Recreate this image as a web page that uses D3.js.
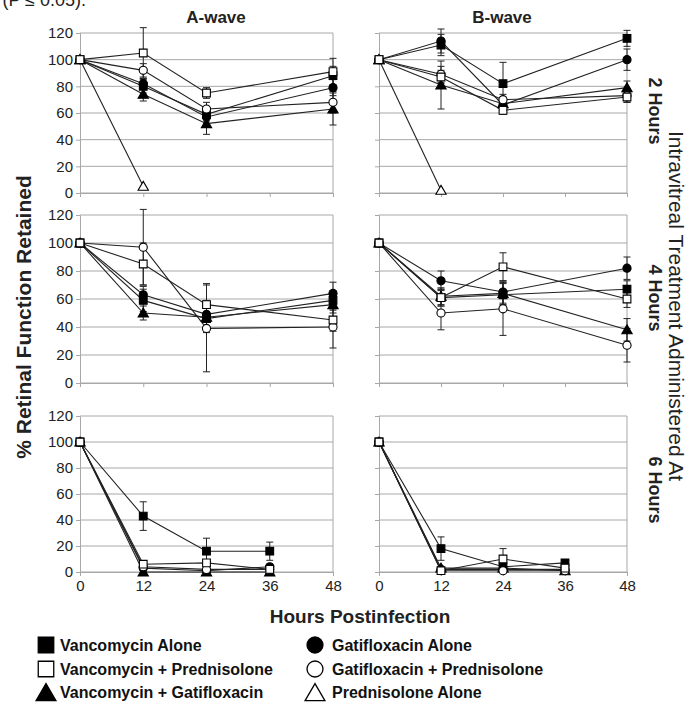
<!DOCTYPE html>
<html>
<head>
<meta charset="utf-8">
<script src="https://cdn.jsdelivr.net/npm/d3@7"></script>
<style>
  html, body { margin: 0; padding: 0; background: #fff; }
  svg { display: block; font-family: "Liberation Sans", Arial, sans-serif; }
</style>
</head>
<body>
<svg id="chart" width="696" height="713"></svg>
<script>
// ---------------- DATA ----------------
const hours = [0, 12, 24, 36, 48];
const yTicks = [0, 20, 40, 60, 80, 100, 120];
const xTicks = [0, 12, 24, 36, 48];
const seriesNames = ["Vancomycin Alone", "Vancomycin + Prednisolone", "Vancomycin + Gatifloxacin",
                     "Gatifloxacin Alone", "Gatifloxacin + Prednisolone", "Prednisolone Alone"];
const waveTitles = ["A-wave", "B-wave"];
const timeLabels = ["2 Hours", "4 Hours", "6 Hours"];

// series order: VA, VP, VG, GA, GP, PA  (values per hour 0,12,24,36,48)
const aWave2h = [
  [100, 80, 59, null, 88],
  [100, 105, 75, null, 91],
  [100, 74, 52, null, 63],
  [100, 82, 57, null, 79],
  [100, 92, 63, null, 68],
  [100, 5, null, null, null]
];
const aWave2hErr = [
  [0, 5, 5, null, 7],
  [0, 19, 4, null, 10],
  [0, 5, 8, null, 12],
  [0, 4, 5, null, 6],
  [0, 5, 5, null, 8],
  [0, 0, null, null, null]
];
const bWave2h = [
  [100, 111, 82, null, 116],
  [100, 87, 62, null, 72],
  [100, 81, 67, null, 79],
  [100, 114, 66, null, 100],
  [100, 89, 70, null, 73],
  [100, 2, null, null, null]
];
const bWave2hErr = [
  [0, 8, 16, null, 6],
  [0, 5, 3, null, 4],
  [0, 18, 5, null, 5],
  [0, 9, 4, null, 8],
  [0, 6, 4, null, 5],
  [0, 0, null, null, null]
];
const aWave4h = [
  [100, 59, 46, null, 59],
  [100, 85, 56, null, 45],
  [100, 50, 47, null, 56],
  [100, 63, 49, null, 64],
  [100, 97, 39, null, 40],
  [null, null, null, null, null]
];
const aWave4hErr = [
  [0, 8, 10, null, 7],
  [0, 15, 15, null, 8],
  [0, 5, 8, null, 6],
  [0, 6, 10, null, 8],
  [0, 27, 31, null, 15],
  [null, null, null, null, null]
];
const bWave4h = [
  [100, 61, 63, null, 67],
  [100, 61, 83, null, 60],
  [100, 62, 64, null, 38],
  [100, 73, 65, null, 82],
  [100, 50, 53, null, 27],
  [null, null, null, null, null]
];
const bWave4hErr = [
  [0, 6, 8, null, 6],
  [0, 6, 10, null, 6],
  [0, 6, 8, null, 8],
  [0, 7, 8, null, 8],
  [0, 12, 19, null, 12],
  [null, null, null, null, null]
];
const aWave6h = [
  [100, 43, 16, 16, null],
  [100, 6, 7, 2, null],
  [100, 0, 0, 0, null],
  [100, 3, 1, 4, null],
  [100, 4, 2, 2, null],
  [null, null, null, null, null]
];
const aWave6hErr = [
  [0, 11, 10, 7, null],
  [0, 2, 2, 2, null],
  [0, 1, 1, 1, null],
  [0, 2, 2, 2, null],
  [0, 2, 2, 2, null],
  [null, null, null, null, null]
];
const bWave6h = [
  [100, 18, 4, 7, null],
  [100, 1, 10, 3, null],
  [100, 3, 3, 1, null],
  [100, 2, 2, 2, null],
  [100, 1, 1, 1, null],
  [null, null, null, null, null]
];
const bWave6hErr = [
  [0, 9, 3, 2, null],
  [0, 1, 8, 1, null],
  [0, 1, 1, 1, null],
  [0, 1, 1, 1, null],
  [0, 1, 1, 1, null],
  [null, null, null, null, null]
];

// ---------------- STYLE / LAYOUT ----------------
const seriesStyle = [
  { shape: "square", fill: "#000" },
  { shape: "square", fill: "#fff" },
  { shape: "triangle", fill: "#000" },
  { shape: "circle", fill: "#000" },
  { shape: "circle", fill: "#fff" },
  { shape: "triangle", fill: "#fff" }
];
const drawOrder = [0, 2, 3, 4, 5, 1];

const cols = [{ x0: 80, x1: 333 }, { x0: 379, x1: 627 }];
const rows = [{ y0: 193, y1: 33 }, { y0: 383, y1: 215 }, { y0: 572, y1: 416 }];
const panelData = [
  [[aWave2h, aWave2hErr], [bWave2h, bWave2hErr]],
  [[aWave4h, aWave4hErr], [bWave4h, bWave4hErr]],
  [[aWave6h, aWave6hErr], [bWave6h, bWave6hErr]]
];

const svg = d3.select("#chart");
const gridColor = "#a8a8a8";
const lineColor = "#222";

function markerPath(shape, big) {
  const sizes = big ? { square: 240, circle: 200, triangle: 170 } : { square: 60, circle: 52, triangle: 46 };
  const t = shape === "square" ? d3.symbolSquare : shape === "circle" ? d3.symbolCircle : d3.symbolTriangle;
  return d3.symbol().type(t).size(sizes[shape])();
}

rows.forEach((r, ri) => {
  cols.forEach((c, ci) => {
    const x = d3.scaleLinear().domain([0, 48]).range([c.x0, c.x1]);
    const y = d3.scaleLinear().domain([0, 120]).range([r.y0, r.y1]);
    const g = svg.append("g");

    // gridlines
    g.selectAll("line.grid").data(yTicks).join("line")
      .attr("x1", c.x0).attr("x2", c.x1)
      .attr("y1", d => y(d)).attr("y2", d => y(d))
      .attr("stroke", gridColor).attr("stroke-width", 1);
    // right border
    g.append("line").attr("x1", c.x1).attr("x2", c.x1).attr("y1", r.y0).attr("y2", r.y1)
      .attr("stroke", gridColor);

    // y axis
    const yAxis = d3.axisLeft(y).tickValues(yTicks).tickSize(4).tickPadding(3)
      .tickFormat(ci === 0 ? d3.format("d") : () => "");
    const ya = g.append("g").attr("transform", `translate(${c.x0},0)`).call(yAxis);
    ya.select(".domain").attr("stroke", gridColor);
    ya.selectAll(".tick line").attr("stroke", gridColor);
    ya.selectAll(".tick text").attr("font-size", 15).attr("fill", "#222")
      .attr("font-family", "'Liberation Sans', Arial, sans-serif");

    // x axis
    const xAxis = d3.axisBottom(x).tickValues(xTicks).tickSize(4).tickPadding(4)
      .tickFormat(ri === 2 ? d3.format("d") : () => "");
    const xa = g.append("g").attr("transform", `translate(0,${r.y0})`).call(xAxis);
    xa.select(".domain").attr("stroke", gridColor);
    xa.selectAll(".tick line").attr("stroke", gridColor);
    xa.selectAll(".tick text").attr("font-size", 15).attr("fill", "#222")
      .attr("font-family", "'Liberation Sans', Arial, sans-serif");

    const [vals, errs] = panelData[ri][ci];
    const lineGen = d3.line().defined(d => d.v != null).x(d => x(d.h)).y(d => y(d.v));

    // lines
    drawOrder.forEach(si => {
      const pts = hours.map((h, i) => ({ h, v: vals[si][i] })).filter(d => d.v != null);
      if (pts.length < 2) return;
      g.append("path").datum(pts).attr("d", lineGen)
        .attr("fill", "none").attr("stroke", lineColor).attr("stroke-width", 1.1);
    });
    // error bars
    drawOrder.forEach(si => {
      hours.forEach((h, i) => {
        const v = vals[si][i], e = errs[si][i];
        if (v == null || !e) return;
        const xx = x(h);
        g.append("line").attr("x1", xx).attr("x2", xx).attr("y1", y(v - e)).attr("y2", y(v + e))
          .attr("stroke", lineColor).attr("stroke-width", 1);
        [v - e, v + e].forEach(ev => {
          g.append("line").attr("x1", xx - 3.5).attr("x2", xx + 3.5).attr("y1", y(ev)).attr("y2", y(ev))
            .attr("stroke", lineColor).attr("stroke-width", 1);
        });
      });
    });
    // markers
    drawOrder.forEach(si => {
      const st = seriesStyle[si];
      hours.forEach((h, i) => {
        const v = vals[si][i];
        if (v == null) return;
        g.append("path").attr("d", markerPath(st.shape, false))
          .attr("transform", `translate(${x(h)},${y(v) + (st.shape === "triangle" ? 1 : 0)})`)
          .attr("fill", st.fill).attr("stroke", "#000").attr("stroke-width", 1.1);
      });
    });
  });
});

// titles
const titleX = [216, 502];
svg.selectAll("text.title").data(waveTitles).join("text")
  .attr("x", (d, i) => titleX[i]).attr("y", 23)
  .attr("text-anchor", "middle").attr("font-weight", "bold").attr("font-size", 17)
  .attr("fill", "#222").text(d => d);

// right labels
const timeY = [111, 298, 490];
svg.selectAll("text.time").data(timeLabels).join("text")
  .attr("transform", (d, i) => `translate(655,${timeY[i]}) rotate(90)`)
  .attr("text-anchor", "middle").attr("dy", "0.35em")
  .attr("font-weight", "bold").attr("font-size", 18).attr("fill", "#222").text(d => d);
svg.append("text")
  .attr("transform", "translate(676,306) rotate(90)")
  .attr("text-anchor", "middle").attr("dy", "0.35em")
  .attr("font-size", 21).attr("fill", "#222").text("Intravitreal Treatment Administered At");

// axis labels
svg.append("text")
  .attr("transform", "translate(24,317) rotate(-90)")
  .attr("text-anchor", "middle").attr("dy", "0.35em")
  .attr("font-weight", "bold").attr("font-size", 21).attr("fill", "#222")
  .text("% Retinal Function Retained");
svg.append("text")
  .attr("x", 360).attr("y", 623).attr("text-anchor", "middle")
  .attr("font-weight", "bold").attr("font-size", 19).attr("fill", "#222")
  .text("Hours Postinfection");

// caption fragment at the top (cut off by the image edge, as in the reference)
svg.append("text").attr("x", 86).attr("y", 6).attr("text-anchor", "end")
  .attr("font-size", 18).attr("fill", "#222").text("(P ≤ 0.05).");

// legend
const legendCols = [{ mx: 46, tx: 60 }, { mx: 315, tx: 332 }];
const legendRows = [651, 675, 698];
const legendPos = [[0, 0], [0, 1], [0, 2], [1, 0], [1, 1], [1, 2]];
seriesNames.forEach((name, si) => {
  const [c, r] = legendPos[si];
  const st = seriesStyle[si];
  const by = legendRows[r];
  svg.append("path").attr("d", markerPath(st.shape, true))
    .attr("transform", `translate(${legendCols[c].mx},${by - 6 + (st.shape === "triangle" ? 3 : 0)})`)
    .attr("fill", st.fill).attr("stroke", "#000").attr("stroke-width", 1.3);
  svg.append("text").attr("x", legendCols[c].tx).attr("y", by)
    .attr("font-weight", "bold").attr("font-size", 16).attr("fill", "#111").text(name);
});
</script>
</body>
</html>
